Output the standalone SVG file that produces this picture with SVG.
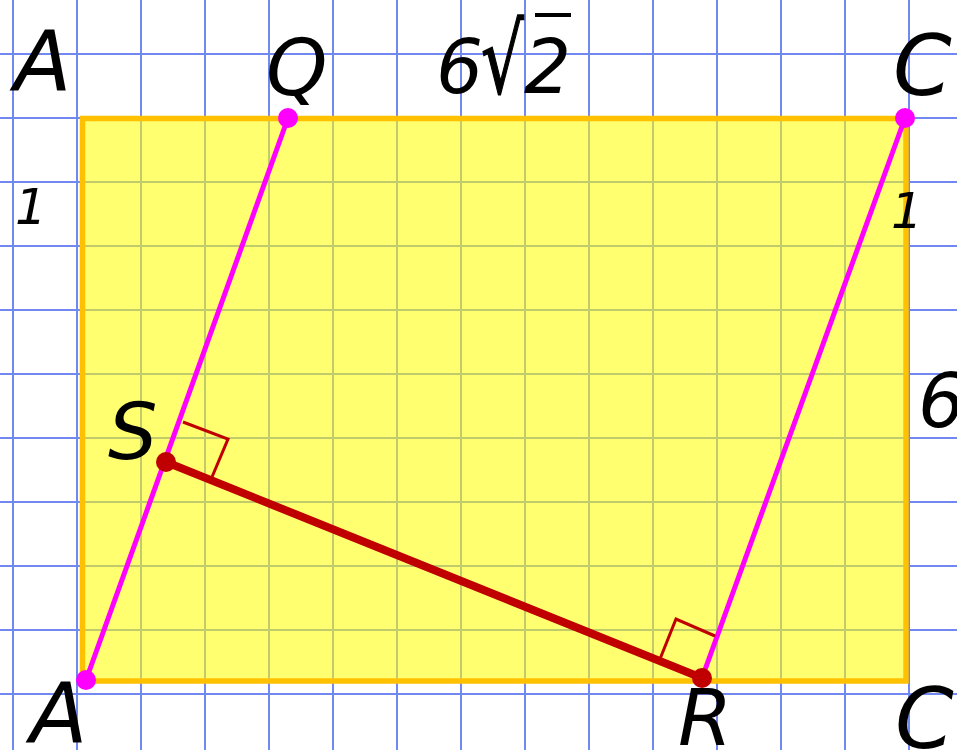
<svg xmlns="http://www.w3.org/2000/svg" width="957" height="750" viewBox="0 0 957 750">
<style>
.grid line{stroke:#7088f0;stroke-width:2}
.lbl{font-family:"DejaVu Sans",sans-serif;font-style:italic;fill:#000}
.big{font-size:84px}
.mid{font-size:78px}
.small{font-size:50px}
.mag{stroke:#ff00ff;stroke-width:5;fill:none}
.red{stroke:#c00000;stroke-width:8;fill:none}
.ra{stroke:#c00000;stroke-width:3;fill:none}
.pm{fill:#ff00ff}
.pr{fill:#c00000}
</style>
<rect width="957" height="750" fill="#fff"/>
<g class="grid" id="grid">
<line x1="13" y1="0" x2="13" y2="750"/><line x1="77" y1="0" x2="77" y2="750"/><line x1="141" y1="0" x2="141" y2="750"/><line x1="205" y1="0" x2="205" y2="750"/><line x1="269" y1="0" x2="269" y2="750"/><line x1="333" y1="0" x2="333" y2="750"/><line x1="397" y1="0" x2="397" y2="750"/><line x1="461" y1="0" x2="461" y2="750"/><line x1="525" y1="0" x2="525" y2="750"/><line x1="589" y1="0" x2="589" y2="750"/><line x1="653" y1="0" x2="653" y2="750"/><line x1="717" y1="0" x2="717" y2="750"/><line x1="781" y1="0" x2="781" y2="750"/><line x1="845" y1="0" x2="845" y2="750"/><line x1="909" y1="0" x2="909" y2="750"/>
<line x1="0" y1="54" x2="957" y2="54"/><line x1="0" y1="118" x2="957" y2="118"/><line x1="0" y1="182" x2="957" y2="182"/><line x1="0" y1="246" x2="957" y2="246"/><line x1="0" y1="310" x2="957" y2="310"/><line x1="0" y1="374" x2="957" y2="374"/><line x1="0" y1="438" x2="957" y2="438"/><line x1="0" y1="502" x2="957" y2="502"/><line x1="0" y1="566" x2="957" y2="566"/><line x1="0" y1="630" x2="957" y2="630"/><line x1="0" y1="694" x2="957" y2="694"/>
</g>
<g id="rectangle">
<rect x="82.5" y="118.5" width="823.5" height="562.5" fill="#ffff00" fill-opacity="0.56" stroke="#ffc000" stroke-width="5.5"/>
</g>
<g id="connectors">
<line class="mag" x1="86" y1="680" x2="288" y2="118"/>
<line class="mag" x1="702" y1="678" x2="905" y2="118"/>
<line class="red" x1="166" y1="462" x2="702" y2="678"/>
<polyline class="ra" points="183,422 228,439 212,477"/>
<polyline class="ra" points="660,659 676,619 715,636"/>
</g>
<g id="node-A-bottom"><circle class="pm" cx="86" cy="680" r="10"/><text class="lbl big" x="30" y="743">A</text></g>
<g id="node-Q"><circle class="pm" cx="288" cy="118" r="10"/><text class="lbl mid" x="266" y="95">Q</text></g>
<g id="node-C-top"><circle class="pm" cx="905" cy="118" r="10"/><text class="lbl big" x="893" y="95">C</text></g>
<g id="node-S"><circle class="pr" cx="166" cy="462" r="10"/><text class="lbl mid" x="108" y="459">S</text></g>
<g id="node-R"><circle class="pr" cx="702" cy="678" r="10"/><text class="lbl mid" x="678" y="745">R</text></g>
<g id="node-A-top"><text class="lbl big" x="14" y="91">A</text></g>
<g id="node-C-bottom"><text class="lbl big" x="895" y="748">C</text></g>
<g id="labels">
<text class="lbl small" x="15" y="224">1</text>
<text class="lbl small" x="891" y="228">1</text>
<text class="lbl" font-size="74" x="918" y="427">6</text>
<text class="lbl" font-size="74" x="436" y="93">6</text>
<text class="lbl" font-size="96" font-style="normal" stroke="#000" stroke-width="1.5" transform="translate(481,93) scale(0.7,1)" x="0" y="0">√</text>
<text class="lbl" font-size="74" x="524" y="93">2</text>
<line x1="535" y1="15" x2="571" y2="15" stroke="#000" stroke-width="4"/>
</g>
</svg>
